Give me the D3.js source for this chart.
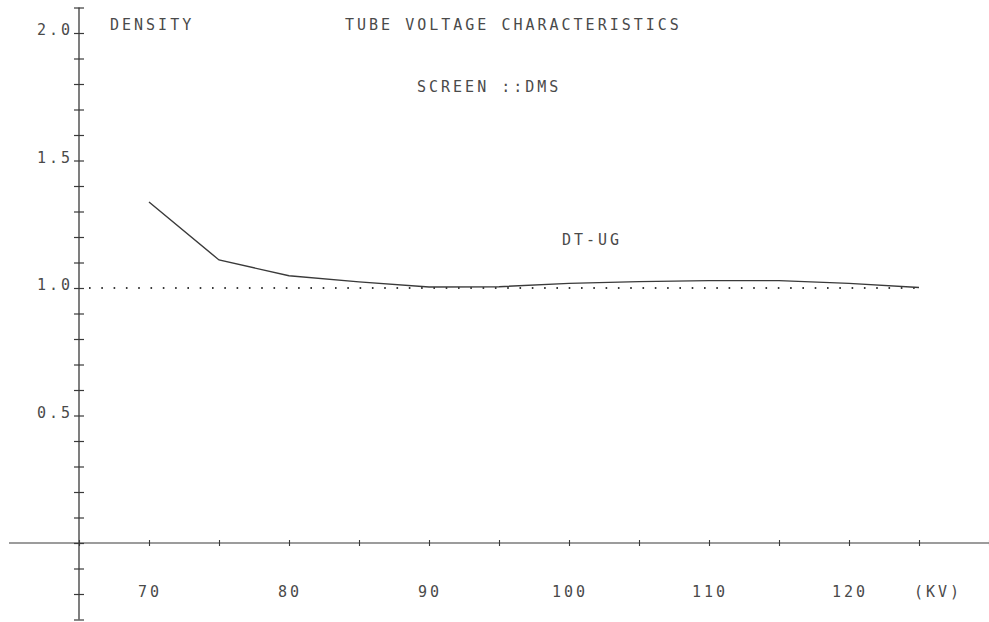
<!DOCTYPE html>
<html>
<head>
<meta charset="utf-8">
<script src="https://cdn.jsdelivr.net/npm/d3@7"></script>
<style>
  html, body { margin: 0; padding: 0; background: #fff; }
  svg { display: block; }
  text { font-family: "DejaVu Sans Mono", monospace; font-size: 15px; fill: #4a4a4a; letter-spacing: 3px; }
</style>
</head>
<body>
<svg id="chart" width="989" height="622"></svg>
<script>
// ---- data ----
const kv = [70, 75, 80, 85, 90, 95, 100, 105, 110, 115, 120, 125];
const density = [1.337, 1.110, 1.048, 1.024, 1.004, 1.005, 1.018, 1.025, 1.029, 1.029, 1.018, 1.002];
const referenceLevel = 1.0;
const xTickValues = [65, 70, 75, 80, 85, 90, 95, 100, 105, 110, 115, 120, 125, 130];
const xLabelValues = [70, 80, 90, 100, 110, 120];
const yTickValues = d3.range(-3, 22).map(d => d / 10);
const yLabelValues = [0.5, 1.0, 1.5, 2.0];
const title = "TUBE VOLTAGE CHARACTERISTICS";
const subtitle = "SCREEN ::DMS";
const yTitle = "DENSITY";
const xUnit = "(KV)";
const seriesName = "DT-UG";

// ---- scales ----
const svg = d3.select("#chart");
const x = d3.scaleLinear().domain([65, 125]).range([79, 919]);
const y = d3.scaleLinear().domain([-0.3, 2.1]).range([619.5, 7.5]);
const ink = "#3a3a3a";

// ---- x axis ----
const xAxis = d3.axisBottom(x).tickValues(xTickValues).tickSize(3).tickFormat("");
const gx = svg.append("g").attr("transform", `translate(0,${y(0)})`).call(xAxis);
gx.select(".domain").remove();
gx.selectAll(".tick line").attr("y1", -3).attr("stroke", ink).attr("stroke-width", 1.1);
gx.append("line")
  .attr("x1", x(60)).attr("x2", x(130.1))
  .attr("stroke", ink).attr("stroke-width", 1.2);

// ---- y axis ----
const yAxis = d3.axisLeft(y).tickValues(yTickValues).tickSize(5).tickFormat("");
const gy = svg.append("g").attr("transform", `translate(${x(65)},0)`).call(yAxis);
gy.select(".domain").remove();
gy.selectAll(".tick line").attr("x1", 5).attr("stroke", ink).attr("stroke-width", 1.2);
gy.append("line")
  .attr("y1", y(2.1)).attr("y2", y(-0.3))
  .attr("stroke", ink).attr("stroke-width", 1.3);

// ---- labels ----
svg.append("g").selectAll("text").data(yLabelValues).join("text")
  .attr("x", 73).attr("y", d => y(d) + 2)
  .attr("text-anchor", "end")
  .text(d => d.toFixed(1));

svg.append("g").selectAll("text").data(xLabelValues).join("text")
  .attr("x", d => x(d) + 1).attr("y", y(0) + 54)
  .attr("text-anchor", "middle")
  .text(d => d);

svg.append("text").attr("x", x(125) + 19).attr("y", y(0) + 54)
  .attr("text-anchor", "middle").text(xUnit);

svg.append("text").attr("x", 110).attr("y", 30).text(yTitle);
svg.append("text").attr("x", 345).attr("y", 30).text(title);
svg.append("text").attr("x", 417).attr("y", 92).text(subtitle);
svg.append("text").attr("x", 562).attr("y", 245).text(seriesName);

// ---- reference dotted line ----
svg.append("line")
  .attr("x1", x(65) + 10).attr("x2", x(125) + 2)
  .attr("y1", y(referenceLevel)).attr("y2", y(referenceLevel))
  .attr("stroke", ink).attr("stroke-width", 2)
  .attr("stroke-dasharray", "1.6 10.7");

// ---- curve ----
const line = d3.line().x((d, i) => x(kv[i])).y(d => y(d));
svg.append("path")
  .datum(density)
  .attr("d", line)
  .attr("fill", "none")
  .attr("stroke", ink)
  .attr("stroke-width", 1.4);
</script>
</body>
</html>
